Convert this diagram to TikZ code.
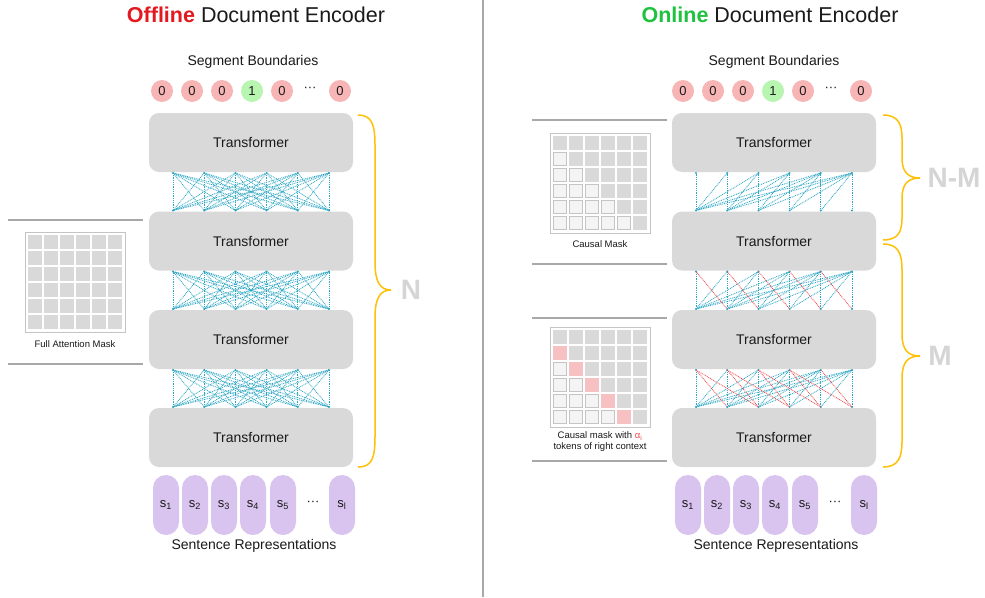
\documentclass[tikz,border=0pt]{standalone}
\usepackage{fontspec}
\setmainfont{Liberation Sans}
\usetikzlibrary{calc}
\definecolor{tgray}{HTML}{D9D9D9}
\definecolor{cblue}{HTML}{2BA6C4}
\definecolor{cred}{HTML}{F0474C}
\definecolor{pinkc}{HTML}{F8B5B5}
\definecolor{greenc}{HTML}{B7F5B0}
\definecolor{lav}{HTML}{D9C3EF}
\definecolor{bracec}{HTML}{FFC107}
\definecolor{titlered}{HTML}{E3191F}
\definecolor{titlegreen}{HTML}{1FC23F}
\definecolor{lblc}{HTML}{D5D5D5}
\definecolor{sepc}{HTML}{A8A8A8}
\definecolor{cellg}{HTML}{D9D9D9}
\definecolor{celll}{HTML}{F4F4F4}
\definecolor{cellp}{HTML}{F8C1C1}
\definecolor{mborder}{HTML}{C4C4C4}
\definecolor{textc}{HTML}{1A1A1A}
\tikzset{
  tbox/.style={fill=tgray, rounded corners=10pt, minimum width=204pt, minimum height=59pt, inner sep=0pt, font=\fontsize{14}{16}\selectfont, text=textc},
  bcirc/.style={circle, minimum size=22pt, inner sep=0pt, font=\fontsize{13}{15}\selectfont, text=textc},
  pill/.style={fill=lav, rounded corners=13pt, minimum width=26pt, minimum height=60pt, inner sep=0pt, font=\fontsize{13}{15}\selectfont, text=textc},
  heading/.style={font=\fontsize{21.5}{24}\selectfont, text=textc},
  sublabel/.style={font=\fontsize{14}{16}\selectfont, text=textc},
  capt/.style={font=\fontsize{9.5}{11}\selectfont, text=textc, align=center},
  conn/.style={cblue, line width=0.8pt, dash pattern=on 0.9pt off 0.9pt},
  connr/.style={cred, line width=0.8pt, dash pattern=on 0.9pt off 0.9pt},
  bracel/.style={bracec, line width=1.5pt},
  panelline/.style={sepc, line width=1.3pt},
  biglbl/.style={font=\fontsize{28}{30}\selectfont\bfseries, text=lblc},
}
\newcommand\drawmask[4]{%
  \node[draw=mborder, line width=1.2pt, fill=white, minimum size=100pt, inner sep=0pt, anchor=north west] (#1) at (#2,#3) {};
  \foreach \mr in {0,...,5}{\foreach \mc in {0,...,5}{%
    \pgfmathtruncatemacro\kind{(#4==1)*(\mc<\mr) + (#4==2)*((\mc==\mr-1)*2 + (\mc<\mr-1))}%
    \ifcase\kind
      \fill[cellg] ({#2+3+16*\mc},{#3+3+16*\mr}) rectangle ++(14,14);
    \or
      \filldraw[fill=celll, draw=mborder, line width=0.8pt] ({#2+3.5+16*\mc},{#3+3.5+16*\mr}) rectangle ++(13,13);
    \or
      \fill[cellp] ({#2+3+16*\mc},{#3+3+16*\mr}) rectangle ++(14,14);
    \fi
  }}%
}
\begin{document}
\begin{tikzpicture}[x=1pt,y=-1pt]
\useasboundingbox (0,0) rectangle (985,597);
\fill[white] (0,0) rectangle (985,597);

% separator
\draw[sepc, line width=2pt] (483,0) -- (483,597);

% titles
\node[heading] (titleL) at (256,15) {\textcolor{titlered}{\bfseries Offline} Document Encoder};
\node[heading] (titleR) at (770,15) {\textcolor{titlegreen}{\bfseries Online} Document Encoder};
\node[sublabel] (segL) at (253,62) {Segment Boundaries};
\node[sublabel] (segR) at (774,62) {Segment Boundaries};

% boundary circles
\foreach \n/\x/\v/\col in {1/162/0/pinkc, 2/192/0/pinkc, 3/222/0/pinkc, 4/252/1/greenc, 5/282/0/pinkc, 7/340/0/pinkc}{
  \node[bcirc, fill=\col] (cL\n) at (\x,91) {\v};
  \node[bcirc, fill=\col] (cR\n) at ({\x+521},91) {\v};
}
\node[bcirc] (cLd) at (310,89) {···};
\node[bcirc] (cRd) at (831,89) {···};

% transformers and connection points
\foreach \side/\cx in {L/251, R/774}{
  \foreach \k/\cy in {1/142.5, 2/241, 3/339.5, 4/437.5}{
    \node[tbox] (\side\k) at (\cx,\cy) {Transformer};
    \foreach \i in {0,...,5}{
      \coordinate (\side\k t\i) at ({\cx+(\i-2.5)*31.2},{\cy-30.5});
      \coordinate (\side\k b\i) at ({\cx+(\i-2.5)*31.2},{\cy+30.5});
    }
  }
}

% left: full attention
\foreach \k in {1,2,3}{
  \pgfmathtruncatemacro\kn{\k+1}
  \foreach \i in {0,...,5}{\foreach \j in {0,...,5}{
    \draw[conn] (L\k b\i) -- (L\kn t\j);
  }}
  \foreach \i in {0,...,5}{
    \fill[cblue] (L\k b\i) circle (1.1);
    \fill[cblue] (L\kn t\i) circle (1.1);
  }
}

% right: causal (blue)
\foreach \k in {1,2,3}{
  \pgfmathtruncatemacro\kn{\k+1}
  \foreach \i in {0,...,5}{\foreach \j in {\i,...,5}{
    \draw[conn] (R\kn t\i) -- (R\k b\j);
  }}
  \foreach \i in {0,...,5}{
    \fill[cblue] (R\k b\i) circle (1.1);
    \fill[cblue] (R\kn t\i) circle (1.1);
  }
}
% right context (red)
\foreach \j in {0,...,4}{
  \pgfmathtruncatemacro\jn{\j+1}
  \draw[connr] (R2b\j) -- (R3t\jn);
  \draw[connr] (R3b\j) -- (R4t\jn);
}
\foreach \j in {0,...,3}{
  \pgfmathtruncatemacro\jn{\j+2}
  \draw[connr] (R3b\j) -- (R4t\jn);
}

% sentence representations
\foreach \n/\x/\s in {1/166/1, 2/195/2, 3/224/3, 4/253/4, 5/283/5, 7/342/l}{
  \node[pill] (pL\n) at (\x,505) {s\textsubscript{\s}};
  \node[pill] (pR\n) at ({\x+522},505) {s\textsubscript{\s}};
}
\node[bcirc] (pLd) at (313,503) {···};
\node[bcirc] (pRd) at (835,503) {···};
\node[sublabel] (senL) at (254,546) {Sentence Representations};
\node[sublabel] (senR) at (776,546) {Sentence Representations};

% masks
\draw[panelline] (8,220) -- (143,220);
\draw[panelline] (8,364) -- (143,364);
\drawmask{maskF}{25}{232}{0}
\node[capt] (captF) at (75,344) {Full Attention Mask};

\draw[panelline] (532,120) -- (667,120);
\draw[panelline] (532,264) -- (667,264);
\drawmask{maskC}{550}{133}{1}
\node[capt] (captC) at (600,244) {Causal Mask};

\draw[panelline] (532,318) -- (667,318);
\draw[panelline] (532,461) -- (667,461);
\drawmask{maskR}{550}{327}{2}
\node[capt] (captR) at (600,442) {Causal mask with \textcolor{cred}{α\textsubscript{i}}\\tokens of right context};

% braces
\coordinate (bLt) at (358,115);
\coordinate (bLm) at (391,290);
\coordinate (bLb) at (358,467);
\draw[bracel] (bLt) .. controls (372,115) and (375,125) .. (375,145) -- (375,262)
  .. controls (375,282) and (380,290) .. (bLm)
  .. controls (380,290) and (375,298) .. (375,318) -- (375,437)
  .. controls (375,458) and (372,467) .. (bLb);
\node[biglbl] (lblN) at (411,290) {N};

\coordinate (bR1t) at (883,115);
\coordinate (bR1m) at (920,178);
\coordinate (bR1b) at (883,240);
\draw[bracel] (bR1t) .. controls (898,115) and (902,124) .. (902,138) -- (902,158)
  .. controls (902,172) and (908,178) .. (bR1m)
  .. controls (908,178) and (902,184) .. (902,198) -- (902,218)
  .. controls (902,232) and (898,240) .. (bR1b);
\node[biglbl] (lblNM) at (954,178) {N-M};

\coordinate (bR2t) at (883,244);
\coordinate (bR2m) at (920,356);
\coordinate (bR2b) at (883,467);
\draw[bracel] (bR2t) .. controls (898,244) and (902,253) .. (902,270) -- (902,334)
  .. controls (902,350) and (908,356) .. (bR2m)
  .. controls (908,356) and (902,362) .. (902,378) -- (902,441)
  .. controls (902,458) and (898,467) .. (bR2b);
\node[biglbl] (lblM) at (940,356) {M};
\end{tikzpicture}
\end{document}
